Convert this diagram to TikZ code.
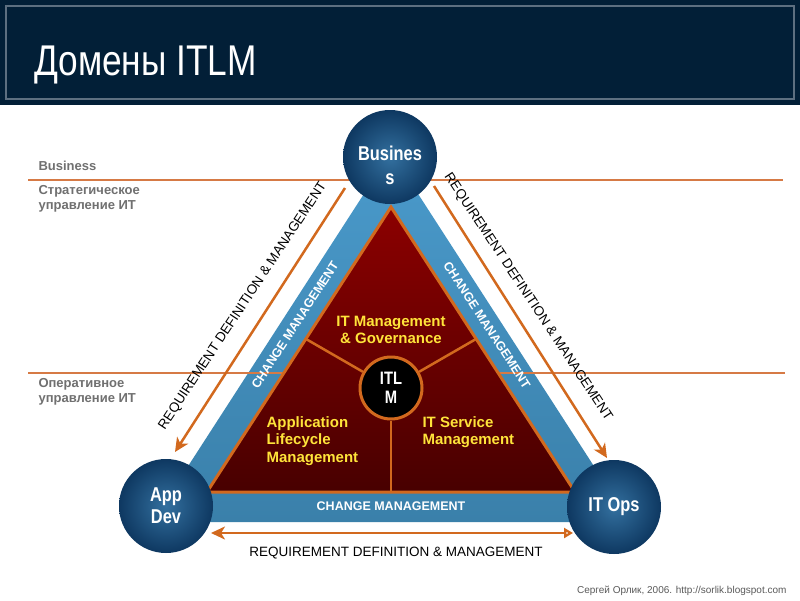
\documentclass[tikz,border=0pt]{standalone}
\usepackage{fontspec}
\setmainfont{Liberation Sans}
\newfontfamily\narrowfont[FakeStretch=0.82]{Liberation Sans}
\usetikzlibrary{arrows.meta,shadings}
\definecolor{titlebg}{HTML}{021F37}
\definecolor{titleborder}{HTML}{5D6F80}
\definecolor{accent}{HTML}{D2691E}
\definecolor{hline}{HTML}{D67A45}
\definecolor{circin}{HTML}{33709F}
\definecolor{circout}{HTML}{0E3861}
\definecolor{bandtop}{HTML}{4A9ACB}
\definecolor{bandmid}{HTML}{5FBAE6}
\definecolor{bandbot}{HTML}{3A80AA}
\definecolor{redtop}{HTML}{8C0000}
\definecolor{redbot}{HTML}{480000}
\definecolor{yellowtxt}{HTML}{FFE43A}
\definecolor{graytxt}{HTML}{707070}
\definecolor{foottxt}{HTML}{5A5A5A}
\begin{document}
\begin{tikzpicture}[x=1pt,y=-1pt,
  hrule/.style={draw=hline, line width=1.5pt},
  reqarrow/.style={draw=accent, line width=2.5pt, -{Stealth[length=14pt,width=13pt,inset=4pt]}},
  domaincircle/.style={circle, minimum size=94pt, inner sep=0pt, shading=radial,
    inner color=circin, outer color=circout, text=white, align=center,
    font=\narrowfont\bfseries\fontsize{20}{22}\selectfont},
  circletext/.style={text=white, align=center, font=\narrowfont\bfseries\fontsize{20}{24}\selectfont},
  yel/.style={text=yellowtxt, font=\bfseries\fontsize{15}{17.5}\selectfont},
  cmtext/.style={text=white, font=\bfseries\fontsize{12.5}{14}\selectfont},
  reqtext/.style={text=black, font=\fontsize{13.5}{16}\selectfont},
  sidetext/.style={text=graytxt, font=\bfseries\fontsize{13}{15.5}\selectfont, align=left, anchor=west},
  divider/.style={draw=accent, line width=2.5pt}]
\useasboundingbox (0,0) rectangle (800,600);
\fill[white] (0,0) rectangle (800,600);
% title bar
\fill[titlebg] (0,0) rectangle (800,105);
\draw[titleborder, line width=1.5pt] (6,6) rectangle (794,99);
\node[anchor=base west, text=white, inner sep=0pt,
  font=\narrowfont\fontsize{43}{48}\selectfont] (title) at (34,75) {Домены ITLM};
% blue band
\shade[top color=bandtop, middle color=bandmid, bottom color=bandbot]
  (391,152) -- (152,522) -- (630,522) -- cycle;
% horizontal level lines
\coordinate (h1a) at (28,180); \coordinate (h1b) at (783,180);
\coordinate (h2a) at (28,373); \coordinate (h2b) at (785,373);
\draw[hrule] (h1a) -- (h1b);
\draw[hrule] (h2a) -- (h2b);
% red triangle
\shadedraw[top color=redtop, bottom color=redbot, draw=accent, line width=3pt, line join=miter]
  (391,207) -- (207,492) -- (575,492) -- cycle;
% dividers and ITLM hub
\node[circle, minimum size=62pt, inner sep=0pt, fill=black, draw=accent, line width=3pt,
  text=white, align=center, font=\narrowfont\bfseries\fontsize{18}{19}\selectfont] (itlm) at (391,388) {ITL\\M};
\coordinate (dl) at (306,339);
\coordinate (dr) at (476,339);
\coordinate (db) at (391,492);
\draw[divider] (itlm) -- (dl);
\draw[divider] (itlm) -- (dr);
\draw[divider] (itlm) -- (db);
% domain texts
\node[yel, align=center] (gov) at (391,330) {IT Management\\\& Governance};
\node[yel, align=left, anchor=west] (alm) at (263,441) {Application\\Lifecycle\\Management};
\node[yel, align=left, anchor=west] (itsm) at (419,432) {IT Service\\Management};
% change management labels
\node[cmtext] (cmb) at (391,506) {CHANGE MANAGEMENT};
\node[cmtext, rotate=57] (cml) at (295,325) {CHANGE MANAGEMENT};
\node[cmtext, rotate=-57] (cmr) at (487,325) {CHANGE MANAGEMENT};
% requirement arrows
\coordinate (lA) at (345,188); \coordinate (lB) at (175,452);
\coordinate (rA) at (434,186); \coordinate (rB) at (607,458);
\coordinate (bL) at (211,533); \coordinate (bR) at (573,533);
\draw[reqarrow] (lA) -- (lB);
\draw[reqarrow] (rA) -- (rB);
\draw[draw=accent, line width=2.5pt,
  {Stealth[length=14pt,width=13pt,inset=4pt]}-{Triangle[open,length=9pt,width=10pt]}] (bL) -- (bR);
\node[reqtext, rotate=56.5] (reql) at (243,306) {REQUIREMENT DEFINITION \& MANAGEMENT};
\node[reqtext, rotate=-56.5] (reqr) at (528,297) {REQUIREMENT DEFINITION \& MANAGEMENT};
\node[reqtext] (reqb) at (396,553) {REQUIREMENT DEFINITION \& MANAGEMENT};
% domain circles
\node[domaincircle] (business) at (390,157) {};
\node[circletext] (businesslabel) at (390,165) {Busines\\s};
\node[domaincircle] (appdev) at (166,506) {App\\Dev};
\node[domaincircle] (itops) at (614,507) {IT Ops};
% side labels
\node[sidetext, anchor=base west] (lbus) at (35,170) {Business};
\node[sidetext] (lstrat) at (35,199) {Стратегическое\\управление ИТ};
\node[sidetext] (loper) at (35,392) {Оперативное\\управление ИТ};
% footer
\node[anchor=east, text=foottxt, font=\fontsize{10}{12}\selectfont] (foot) at (790,591)
  {Сергей Орлик, 2006. http://sorlik.blogspot.com};
\end{tikzpicture}
\end{document}
